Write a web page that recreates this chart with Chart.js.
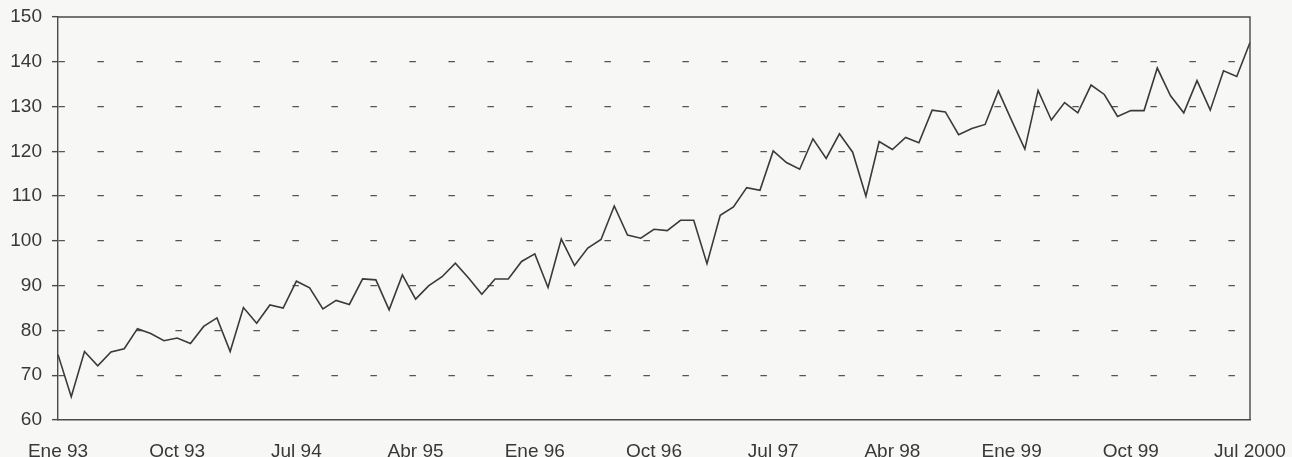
<!DOCTYPE html>
<html>
<head>
<meta charset="utf-8">
<script src="https://cdn.jsdelivr.net/npm/chart.js@4.4.1/dist/chart.umd.min.js"></script>
<style>
  html, body { margin: 0; padding: 0; background: #f7f7f6; }
  #wrap { width: 1292px; height: 457px; position: relative; }
</style>
</head>
<body>
<div id="wrap"><canvas id="c" width="1292" height="457"></canvas></div>
<script>
// ---- data ----
const monthNames = ['Ene','Feb','Mar','Abr','May','Jun','Jul','Ago','Sep','Oct','Nov','Dic'];
const yearNames = ['93','94','95','96','97','98','99','2000'];
const lastYearMonths = 7; // Ene..Jul 2000

const values = [
  74.6, 65.2, 75.3, 72.1, 75.2, 75.9, 80.4, 79.3, 77.7, 78.3, 77.1, 80.9,
  82.8, 75.3, 85.1, 81.6, 85.7, 85.0, 91.0, 89.5, 84.8, 86.7, 85.8, 91.5,
  91.3, 84.6, 92.4, 87.0, 90.0, 92.0, 95.0, 91.7, 88.1, 91.5, 91.5, 95.4,
  97.1, 89.6, 100.4, 94.5, 98.4, 100.3, 107.8, 101.3, 100.6, 102.6, 102.3, 104.6,
  104.6, 94.9, 105.7, 107.6, 111.9, 111.3, 120.1, 117.5, 116.0, 122.8, 118.4, 123.9,
  119.8, 110.0, 122.2, 120.4, 123.1, 121.9, 129.2, 128.8, 123.7, 125.1, 126.0, 133.5,
  126.9, 120.5, 133.6, 127.0, 130.9, 128.6, 134.8, 132.7, 127.8, 129.1, 129.1, 138.6,
  132.4, 128.6, 135.8, 129.2, 138.0, 136.7, 144.3
];

const xTickLabels = ['Ene 93','Oct 93','Jul 94','Abr 95','Ene 96','Oct 96','Jul 97','Abr 98','Ene 99','Oct 99','Jul 2000'];
const yMin = 60, yMax = 150, yStep = 10;

const categories = [];
yearNames.forEach((y, yi) => {
  const n = (yi === yearNames.length - 1) ? lastYearMonths : 12;
  for (let m = 0; m < n; m++) categories.push(monthNames[m] + ' ' + y);
});

// ---- styling ----
const FONT = { family: "'Liberation Sans', Arial, Helvetica, sans-serif", size: 19 };
const TEXT = '#383838';
const AXIS = '#4a4a4a';

const frame = {
  id: 'frame',
  afterDatasetsDraw(chart) {
    const { ctx, chartArea: a } = chart;
    ctx.save();
    ctx.strokeStyle = AXIS;
    ctx.lineWidth = 1.4;
    ctx.beginPath();
    ctx.moveTo(a.left, a.top);
    ctx.lineTo(a.right, a.top);
    ctx.lineTo(a.right, a.bottom);
    ctx.stroke();
    ctx.restore();
  }
};

new Chart(document.getElementById('c'), {
  type: 'line',
  data: {
    labels: categories,
    datasets: [{
      data: values,
      borderColor: '#3a3a3a',
      borderWidth: 1.6,
      pointRadius: 0,
      tension: 0,
      fill: false
    }]
  },
  options: {
    responsive: false,
    animation: false,
    devicePixelRatio: 1,
    layout: { padding: { left: 0, right: 42, top: 17, bottom: 0 } },
    plugins: { legend: { display: false }, tooltip: { enabled: false } },
    scales: {
      x: {
        type: 'category',
        offset: false,
        grid: { display: false, drawTicks: false },
        border: { display: true, color: AXIS, width: 1.4 },
        ticks: {
          autoSkip: false,
          maxRotation: 0,
          minRotation: 0,
          padding: 20,
          color: TEXT,
          font: FONT,
          callback: function (v) {
            const c = this.getLabelForValue(v);
            return xTickLabels.includes(c) ? c : '';
          }
        },
        afterFit(s) { s.height = 37; s.paddingLeft = 0; s.paddingRight = 0; }
      },
      y: {
        min: yMin,
        max: yMax,
        grid: {
          color: (ctx) => (ctx.tick && (ctx.tick.value === yMin || ctx.tick.value === yMax)) ? 'rgba(0,0,0,0)' : '#555',
          lineWidth: 1.3,
          tickLength: 6,
          tickColor: AXIS,
          tickWidth: 1.4,
          tickBorderDash: [],
          drawOnChartArea: true
        },
        border: { display: true, color: AXIS, width: 1.4, dash: [6.5, 32.5], dashOffset: 0 },
        ticks: {
          stepSize: yStep,
          padding: 10,
          color: TEXT,
          font: FONT
        },
        afterFit(s) { s.width = 58; s.paddingTop = 0; s.paddingBottom = 0; }
      }
    }
  },
  plugins: [frame]
});
</script>
</body>
</html>
